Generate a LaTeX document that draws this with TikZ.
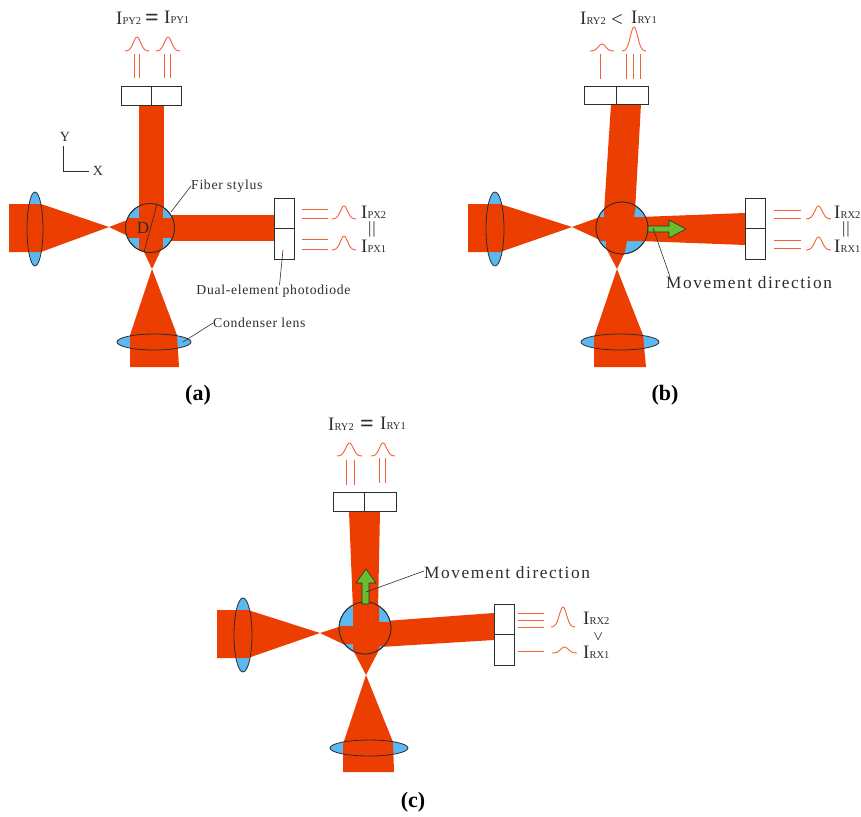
\documentclass[tikz,border=0pt]{standalone}
\usepackage{fontspec}
\setmainfont{Liberation Serif}
\newfontfamily\partfont[LetterSpace=5]{Liberation Serif}
\newfontfamily\movefont[LetterSpace=9]{Liberation Serif}
\definecolor{BeamRed}{RGB}{236,62,0}
\definecolor{LensBlue}{RGB}{92,184,240}
\definecolor{ArrowGreen}{RGB}{104,189,48}
\definecolor{SignalRed}{RGB}{240,96,56}
\definecolor{InkGray}{RGB}{45,45,45}
\usetikzlibrary{
    arrows.meta,
    positioning,
    shapes.geometric
}
\tikzset{
    beam/.style={fill=BeamRed},
    lensfill/.style={fill=LensBlue},
    lens/.style={ellipse,draw=InkGray,line width=0.8pt,inner sep=0pt},
    stylus/.style={circle,draw=InkGray,line width=0.8pt,inner sep=0pt,minimum size=#1},
    detector/.style={rectangle,draw=InkGray,fill=white,line width=0.8pt,inner sep=0pt},
    signal/.style={SignalRed,line width=0.9pt},
    leader/.style={InkGray,line width=0.6pt},
    partlabel/.style={text=InkGray,inner sep=0pt,font=\partfont\fontsize{13.7}{13.7}\selectfont},
    movelabel/.style={text=InkGray,inner sep=0pt,font=\movefont\fontsize{17.3}{17.3}\selectfont},
    readout/.style={text=InkGray,inner sep=0pt},
    relation/.style={text=InkGray,inner sep=0pt,font=\fontsize{17}{17}\selectfont},
    caption/.style={inner sep=0pt,font=\bfseries\fontsize{22}{22}\selectfont},
    moveshape/.style={fill=ArrowGreen,draw=InkGray,line width=0.6pt,line join=round}
}
\newcommand{\IntensityText}[1]{{\fontsize{19}{19}\selectfont I}{\fontsize{10.5}{10.5}\selectfont #1}}
\newcommand{\SignalBump}[4]{
    \draw[signal]
    plot[domain=-1:1,samples=31,smooth]
    ({#1+#2*\x},{#3-#4*exp(-5.5*(\x)*(\x))});
}
\begin{document}
\begin{tikzpicture}[x=1pt,y=-1pt]
\useasboundingbox (0,0) rectangle (861,816);
%
% panel a
%
    \fill[lensfill] (35,229) ellipse [x radius=8pt,y radius=37pt];
    \fill[lensfill] (154,342) ellipse [x radius=37pt,y radius=8pt];
%
    \fill[beam] (9,204) -- (41,204) -- (109,227) -- (41,252) -- (9,252) -- cycle;
    \fill[beam] (109,227) -- (130,219) -- (130,237) -- cycle;
    \fill[beam] (130,367) -- (130,335) -- (152,269) -- (177,335) -- (179,367) -- cycle;
    \fill[beam] (152,269) -- (143,250) -- (161,250) -- cycle;
    \fill[beam] (139,105) rectangle (164,210);
    \fill[beam] (170,215) rectangle (274,241);
%
    \node[stylus=49pt,fill=LensBlue] (stylusA) at (150,228) {};
    \begin{scope}
        \clip (150,228) circle (24.5pt);
        \fill[beam] (139,200) rectangle (163,260);
        \fill[beam] (120,218) rectangle (180,238);
    \end{scope}
    \node[stylus=49pt] at (stylusA) {};
    \draw[leader] (157,204) -- (144,252);
    \node[readout,font=\fontsize{17}{17}\selectfont] (diameterA) at (143,228) {D};
%
    \node[lens,minimum width=16pt,minimum height=74pt] (lensLeftA) at (35,229) {};
    \node[lens,minimum width=74pt,minimum height=16pt] (lensDownA) at (154,342) {};
%
    \node[detector,minimum width=60pt,minimum height=19pt] (detTopA) at (151,95.5) {};
    \draw[InkGray,line width=0.8pt] (detTopA.north) -- (detTopA.south);
    \node[detector,minimum width=20pt,minimum height=61pt] (detRightA) at (284,228.5) {};
    \draw[InkGray,line width=0.8pt] (detRightA.west) -- (detRightA.east);
%
    \foreach \xval in {134,139,164,170}
        \draw[signal] (\xval,54) -- (\xval,78);
    \foreach \yval in {209,218,239,249}
        \draw[signal] (302,\yval) -- (328,\yval);
    \SignalBump{137}{12}{51}{14}
    \SignalBump{168}{12}{51}{14}
    \SignalBump{344}{12}{219}{13}
    \SignalBump{344}{12}{250}{14}
%
    \node[readout,anchor=west] (readPY2) at (116,18) {\IntensityText{PY2}};
    \node[relation,font=\bfseries\fontsize{24}{24}\selectfont] (relTopA) at (152,20) {=};
    \node[readout,anchor=west] (readPY1) at (164,17) {\IntensityText{PY1}};
    \node[readout,anchor=west] (readPX2) at (361,212) {\IntensityText{PX2}};
    \node[relation] (relRightA) at (372,229) {|\kern1pt|};
    \node[readout,anchor=west] (readPX1) at (361,246) {\IntensityText{PX1}};
%
    \draw[leader] (63,146) -- (63,171) -- (89,171);
    \node[readout,font=\fontsize{14}{14}\selectfont] (axisY) at (65,137) {Y};
    \node[readout,font=\fontsize{14}{14}\selectfont] (axisX) at (98,171) {X};
%
    \node[partlabel,anchor=west] (fiberLabel) at (191,186) {Fiber stylus};
    \coordinate (fiberEnd) at (171,212);
    \draw[leader] (fiberEnd) -- (fiberLabel.west);
    \node[partlabel,anchor=north] (dualLabel) at (273.5,285) {Dual-element photodiode};
    \coordinate (dualEnd) at (283,250);
    \draw[leader] (dualEnd) -- ([xshift=6pt]dualLabel.north);
    \node[partlabel,anchor=west] (lensLabel) at (213,323) {Condenser lens};
    \coordinate (lensEnd) at (183,342);
    \draw[leader] (lensEnd) -- (lensLabel.west);
%
    \node[caption] (captionA) at (198,395) {(a)};
%
% panel b
%
    \fill[lensfill] (495,229) ellipse [x radius=9pt,y radius=37pt];
    \fill[lensfill] (620,342) ellipse [x radius=39pt,y radius=8pt];
%
    \fill[beam] (468,204) -- (500,204) -- (572,227) -- (500,252) -- (468,252) -- cycle;
    \fill[beam] (572,227) -- (600,217) -- (600,240) -- cycle;
    \fill[beam] (594,367) -- (594,337) -- (617,269) -- (643,335) -- (646,367) -- cycle;
    \fill[beam] (617,269) -- (606,248) -- (627,248) -- cycle;
    \fill[beam] (611,104) -- (641,104) -- (635,212) -- (604,212) -- cycle;
    \fill[beam] (640,217) -- (745,213) -- (745,245) -- (640,241) -- cycle;
%
    \node[stylus=52pt,fill=LensBlue] (stylusB) at (622,228) {};
    \begin{scope}
        \clip (622,228) circle (26pt);
        \fill[beam] (604,200) -- (637,200) -- (634,217) -- (650,217) -- (650,241)
            -- (627,241) -- (624,256) -- (606,256) -- (606,241) -- (590,241)
            -- (590,217) -- (604,217) -- cycle;
    \end{scope}
    \node[stylus=52pt] at (stylusB) {};
%
    \node[lens,minimum width=18pt,minimum height=74pt] (lensLeftB) at (495,229) {};
    \node[lens,minimum width=78pt,minimum height=16pt] (lensDownB) at (620,342) {};
%
    \node[detector,minimum width=64pt,minimum height=18pt] (detTopB) at (616,95) {};
    \draw[InkGray,line width=0.8pt] (detTopB.north) -- (detTopB.south);
    \node[detector,minimum width=20pt,minimum height=61pt] (detRightB) at (755,228.5) {};
    \draw[InkGray,line width=0.8pt] (detRightB.west) -- (detRightB.east);
%
    \foreach \xval in {600,626,633,640}
        \draw[signal] (\xval,54) -- (\xval,79);
    \foreach \yval in {210,218,240,248}
        \draw[signal] (774,\yval) -- (801,\yval);
    \SignalBump{602}{12}{51}{7}
    \SignalBump{634}{12}{51}{24}
    \SignalBump{818.5}{12.5}{219}{13}
    \SignalBump{818.5}{12.5}{250}{13}
%
    \node[readout,anchor=west] (readRY2B) at (580,18) {\IntensityText{RY2}};
    \node[relation,font=\fontsize{21}{21}\selectfont] (relTopB) at (617,20) {<};
    \node[readout,anchor=west] (readRY1B) at (631,17) {\IntensityText{RY1}};
    \node[readout,anchor=west] (readRX2B) at (834,212) {\IntensityText{RX2}};
    \node[relation] (relRightB) at (846,229) {|\kern1pt|};
    \node[readout,anchor=west] (readRX1B) at (834,246) {\IntensityText{RX1}};
%
    \draw[moveshape] (648,226) -- (669,226) -- (669,220) -- (686,229) -- (669,238)
        -- (669,232) -- (648,232) -- cycle;
    \node[movelabel,anchor=west] (moveLabelB) at (666,283) {Movement direction};
    \coordinate (moveEndB) at (653,228);
    \draw[leader] (moveEndB) -- ([xshift=4pt]moveLabelB.north west);
%
    \node[caption] (captionB) at (665,395) {(b)};
%
% panel c
%
    \fill[lensfill] (243,635) ellipse [x radius=9pt,y radius=37pt];
    \fill[lensfill] (369,748) ellipse [x radius=39pt,y radius=8pt];
%
    \fill[beam] (217,610) -- (248,610) -- (320,633) -- (248,658) -- (217,658) -- cycle;
    \fill[beam] (320,633) -- (345,625) -- (345,645) -- cycle;
    \fill[beam] (343,772) -- (343,744) -- (366,675) -- (393,742) -- (394,772) -- cycle;
    \fill[beam] (366,675) -- (353,650) -- (379,650) -- cycle;
    \fill[beam] (349,511) -- (380,511) -- (378,610) -- (353,610) -- cycle;
    \fill[beam] (385,621) -- (494,613) -- (494,640) -- (380,647) -- cycle;
%
    \node[stylus=52pt,fill=LensBlue] (stylusC) at (365,628) {};
    \begin{scope}
        \clip (365,628) circle (26pt);
        \fill[beam] (353,600) -- (379,600) -- (379,622) -- (395,622) -- (395,646)
            -- (379,646) -- (379,660) -- (353,660) -- (353,644) -- (335,644)
            -- (335,626) -- (353,626) -- cycle;
    \end{scope}
    \node[stylus=52pt] at (stylusC) {};
%
    \node[lens,minimum width=18pt,minimum height=74pt] (lensLeftC) at (243,635) {};
    \node[lens,minimum width=78pt,minimum height=16pt] (lensDownC) at (369,748) {};
%
    \node[detector,minimum width=63pt,minimum height=19pt] (detTopC) at (364.5,501.5) {};
    \draw[InkGray,line width=0.8pt] (detTopC.north) -- (detTopC.south);
    \node[detector,minimum width=20pt,minimum height=61pt] (detRightC) at (504,634.5) {};
    \draw[InkGray,line width=0.8pt] (detRightC.west) -- (detRightC.east);
%
    \foreach \xval in {346,354}
        \draw[signal] (\xval,460) -- (\xval,485);
    \foreach \xval in {379,385}
        \draw[signal] (\xval,458) -- (\xval,483);
    \foreach \yval in {613,620,627,651}
        \draw[signal] (518,\yval) -- (544,\yval);
    \SignalBump{349.5}{12.5}{456}{13}
    \SignalBump{383}{12}{456}{13}
    \SignalBump{563}{12}{627}{20}
    \SignalBump{564.5}{12.5}{653}{6}
%
    \node[readout,anchor=west] (readRY2C) at (328,424) {\IntensityText{RY2}};
    \node[relation,font=\bfseries\fontsize{24}{24}\selectfont] (relTopC) at (367,426) {=};
    \node[readout,anchor=west] (readRY1C) at (380,423) {\IntensityText{RY1}};
    \node[readout,anchor=west] (readRX2C) at (583,618) {\IntensityText{RX2}};
    \node[relation,rotate=90] (relRightC) at (599,637) {<};
    \node[readout,anchor=west] (readRX1C) at (583,652) {\IntensityText{RX1}};
%
    \draw[moveshape] (362,604) -- (362,583) -- (356,583) -- (366,569) -- (376,583)
        -- (369,583) -- (369,604) -- cycle;
    \node[movelabel,anchor=west] (moveLabelC) at (424,573) {Movement direction};
    \coordinate (moveEndC) at (366,592);
    \draw[leader] (moveEndC) -- ([yshift=2pt]moveLabelC.west);
%
    \node[caption] (captionC) at (413,802) {(c)};
%
\end{tikzpicture}
\end{document}
